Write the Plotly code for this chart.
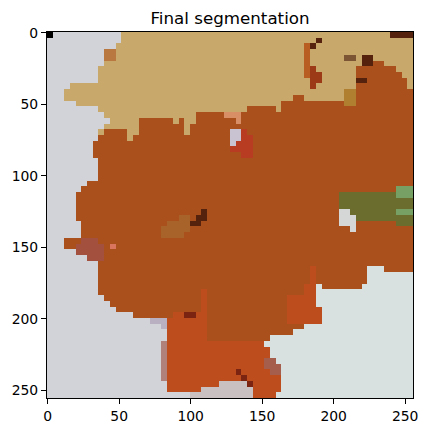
import numpy as np
import plotly.graph_objects as go

# Segment label map, 64 x 64 blocks (each block = 4 x 4 image pixels),
# stored as run-length rows: <label><count> ...
label_rows = [
    "k1 .12 T47 D4",
    ".13 T34 D1 T16",
    ".12 T33 v1 D1 T17",
    ".10 m2 T33 v1 T18",
    ".10 m2 T33 v1 T6 w2 T1 D2 T7",
    ".10 T35 v1 T9 D2 R2 T5",
    ".9 T36 v1 e1 T7 R7 T3",
    ".9 T36 v1 e2 T6 R8 T2",
    ".9 T37 e2 T6 D2 R7 T1",
    ".4 T42 e1 T7 R9 T1",
    ".3 T49 o2 R10",
    ".3 T40 R2 T7 o2 R10",
    ".5 T36 R11 o2 R10",
    ".9 T26 R5 T1 R23",
    ".10 T16 R5 s3 R30",
    ".11 T5 R6 T1 R1 T2 R7 s1 R30",
    ".10 T6 R8 T1 R39",
    ".9 T1 R4 T2 R8 T1 R7 l2 r1 R29",
    ".9 R5 T1 R17 l2 r2 R28",
    ".8 R24 l1 r3 R28",
    ".8 R24 r4 R28",
    ".8 R26 r2 R28",
    ".9 R55",
    ".9 R55",
    ".9 R55",
    ".9 R55",
    ".7 R57",
    ".6 R55 L3",
    ".5 R46 V10 L3",
    ".5 R46 V13",
    ".5 R46 V13",
    ".5 R22 D1 R23 i2 V8 L3",
    ".5 R18 y2 R1 D2 R23 i3 V10",
    ".6 R15 y4 D2 R24 i3 R7 V3",
    ".6 R14 y5 R28 i1 R10",
    ".6 R14 y4 R40",
    ".3 R3 M3 R55",
    ".3 R2 M5 R1 p1 R52",
    ".5 M5 R54",
    ".7 M3 R54",
    ".9 R55",
    ".9 R37 O1 R9 G3 R5",
    ".9 R37 O1 R9 G8",
    ".9 R37 O1 R9 G8",
    ".9 R36 O2 G1 R7 G9",
    ".9 R18 O1 R17 O2 G17",
    ".10 R17 O1 R14 O5 G17",
    ".11 R16 O1 R14 O5 G17",
    ".12 R15 O1 R14 O6 G16",
    ".15 R7 O2 q2 O2 R14 O6 G16",
    ".18 P3 O7 R14 O6 G16",
    ".20 P1 O7 R17 G19",
    ".21 O7 R15 G21",
    ".21 O7 R11 G25",
    ".20 x1 O17 G26",
    ".20 x1 O18 G25",
    ".20 x1 O18 G25",
    ".20 x1 O17 z2 G24",
    ".20 x1 O17 z3 G23",
    ".20 x1 O12 q1 O5 z2 G23",
    ".20 x1 O13 q1 O6 G23",
    ".21 O9 n5 q1 O5 G23",
    ".21 O6 n9 O5 G23",
    ".25 n11 O4 G24",
]

segment_colors = {
    ".": "#d2d3d9", "G": "#d9e1e0", "k": "#000000", "T": "#c8a96b",
    "R": "#a9501d", "O": "#bd4d1d", "D": "#55220e", "m": "#b9783f",
    "v": "#b95e22", "e": "#9c3a18", "w": "#7c5634", "o": "#b07f30",
    "s": "#d98f66", "l": "#c9c3d1", "r": "#b83c22", "L": "#76a064",
    "V": "#6b6d2f", "i": "#d5d6d6", "y": "#a8632a", "M": "#a4503f",
    "p": "#d9745f", "q": "#7b2412", "P": "#b9b1c2", "x": "#b0807a",
    "z": "#a55e4c", "n": "#c9c1c1",
}

tick_values = [0, 50, 100, 150, 200, 250]
image_size = 256
block = 4
title_text = "Final segmentation"


def hex_rgb(h):
    h = h.lstrip("#")
    return [int(h[i:i + 2], 16) for i in (0, 2, 4)]


n_blocks = image_size // block
grid = []
for row in label_rows:
    cells = []
    for tok in row.split():
        cells.extend([tok[0]] * int(tok[1:]))
    cells = (cells + [cells[-1]] * n_blocks)[:n_blocks]
    grid.append([hex_rgb(segment_colors[c]) for c in cells])
small = np.array(grid, dtype=np.uint8)
img = np.repeat(np.repeat(small, block, axis=0), block, axis=1)

fig = go.Figure(go.Image(z=img, x0=0, dx=1, y0=0, dy=1, hoverinfo="skip"))

axis_common = dict(
    tickmode="array", tickvals=tick_values, ticktext=[str(t) for t in tick_values],
    ticks="outside", ticklen=5, tickwidth=1.1, tickcolor="black",
    showline=True, linecolor="black", linewidth=1.1, mirror=True,
    showgrid=False, zeroline=False,
    tickfont=dict(family="DejaVu Sans", size=13.9, color="black"),
)
fig.update_xaxes(range=[-0.5, image_size - 0.5], constrain="domain", **axis_common)
fig.update_yaxes(range=[image_size - 0.5, -0.5], **axis_common)

fig.update_layout(
    width=430, height=435,
    margin=dict(l=47, r=15, t=32, b=34),
    paper_bgcolor="white", plot_bgcolor="white",
    title=dict(text=title_text, x=0.5, xref="paper", xanchor="center",
               y=1 - 18 / 435, yref="container", yanchor="middle",
               font=dict(family="DejaVu Sans", size=16.7, color="black")),
    showlegend=False,
)

fig.write_html("out.html", config={"displayModeBar": False},
               post_script="document.body.style.margin='0px';document.body.style.overflow='hidden';")
